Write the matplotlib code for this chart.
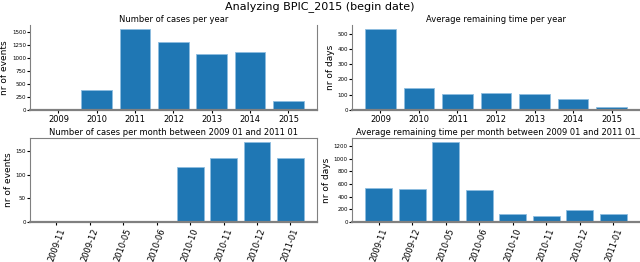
import matplotlib.pyplot as plt

years = ["2009", "2010", "2011", "2012", "2013", "2014", "2015"]
cases_per_year = [2, 380, 1550, 1300, 1080, 1110, 180]
days_per_year = [530, 145, 108, 112, 107, 72, 18]

months = ["2009-11", "2009-12", "2010-05", "2010-06",
          "2010-10", "2010-11", "2010-12", "2011-01"]
cases_per_month = [3, 1, 1, 1, 117, 137, 170, 137]
days_per_month = [540, 520, 1260, 510, 130, 95, 190, 125]


def draw(ax, labels, values, title, ylabel, rotate, top_spine, right_spine):
    ax.bar(labels, values, width=0.8, color="#1f77b4",
           edgecolor="#8dbde0", linewidth=0.6)
    ax.set_title(title, fontsize=6, pad=2)
    ax.set_ylabel(ylabel, fontsize=6.5, labelpad=2)
    ax.tick_params(axis="y", labelsize=4, length=2, pad=1)
    ax.tick_params(axis="x", labelsize=6, length=2, pad=1.5)
    if rotate:
        plt.setp(ax.get_xticklabels(), rotation=70)
    for s in ax.spines.values():
        s.set_color("gray")
        s.set_linewidth(0.8)
    ax.spines["bottom"].set_linewidth(1.6)
    ax.spines["top"].set_visible(top_spine)
    ax.spines["right"].set_visible(right_spine)


fig = plt.figure(figsize=(6.4, 2.62), dpi=100)
fig.suptitle("Analyzing BPIC_2015 (begin date)", fontsize=8, y=0.995)

ax1 = fig.add_axes([0.047, 0.58, 0.448, 0.325])
ax2 = fig.add_axes([0.55, 0.58, 0.45, 0.325])
ax3 = fig.add_axes([0.047, 0.153, 0.448, 0.32])
ax4 = fig.add_axes([0.55, 0.153, 0.45, 0.32])

draw(ax1, years, cases_per_year, "Number of cases per year",
     "nr of events", False, False, True)
ax1.set_yticks([0, 250, 500, 750, 1000, 1250, 1500])
draw(ax2, years, days_per_year, "Average remaining time per year",
     "nr of days", False, False, False)
draw(ax3, months, cases_per_month,
     "Number of cases per month between 2009 01 and 2011 01",
     "nr of events", True, True, True)
ax3.set_yticks([0, 50, 100, 150])
draw(ax4, months, days_per_month,
     "Average remaining time per month between 2009 01 and 2011 01",
     "nr of days", True, True, False)
ax4.set_yticks([0, 200, 400, 600, 800, 1000, 1200])

plt.savefig("out.png")
plt.close()
